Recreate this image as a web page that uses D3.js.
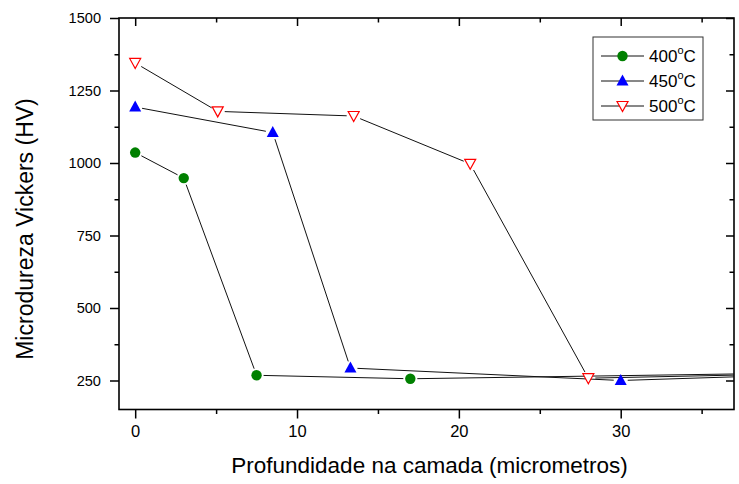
<!DOCTYPE html>
<html><head><meta charset="utf-8">
<script src="https://cdn.jsdelivr.net/npm/d3@7"></script>
<style>body{margin:0;background:#fff}svg{display:block}text{font-family:"Liberation Sans",Arial,sans-serif}</style>
</head><body><svg id="c" width="739" height="484"></svg>
<script>
const series = ["400°C","450°C","500°C"];
const x400 = [0, 3, 7.5, 17, 40];
const y400 = [1036, 948, 268, 256, 275];
const x450 = [0, 8.5, 13.3, 30, 40];
const y450 = [1193, 1105, 293, 250, 268];
const x500 = [0, 5.1, 13.5, 20.7, 28, 40];
const y500 = [1345, 1178, 1162, 997, 258, 272];
const xTicks = [0, 10, 20, 30];
const yTicks = [250, 500, 750, 1000, 1250, 1500];
const xDomain = [-1, 37];
const yDomain = [150, 1500];

const svg = d3.select("#c");
const L = 119, R = 734, T = 18, B = 409.5;
const x = d3.scaleLinear().domain(xDomain).range([L, R]);
const y = d3.scaleLinear().domain(yDomain).range([B, T]);

const gx = svg.append("g").attr("transform", `translate(0,${B})`);
const gy = svg.append("g").attr("transform", `translate(${L},0)`);
const minorX = d3.range(0, 37, 5).filter(v => !xTicks.includes(v));
const minorY = d3.range(375, 1500, 250);

// Bottom axis (outward)
gx.call(d3.axisBottom(x).tickValues(xTicks).tickSize(9).tickPadding(7).tickFormat(d3.format("d")));
gx.append("g").call(d3.axisBottom(x).tickValues(minorX).tickSize(4.5).tickFormat(""));
gx.selectAll(".tick text").attr("font-size", 16.5);
// Left axis (outward)
gy.call(d3.axisLeft(y).tickValues(yTicks).tickSize(9).tickPadding(9).tickFormat(d3.format("d")));
gy.append("g").call(d3.axisLeft(y).tickValues(minorY).tickSize(4.5).tickFormat(""));
gy.selectAll(".tick text").attr("font-size", 14.6);
// Top axis (inward)
const gt = svg.append("g").attr("transform", `translate(0,${T})`);
gt.call(d3.axisBottom(x).tickValues(xTicks).tickSize(8).tickFormat(""));
gt.append("g").call(d3.axisBottom(x).tickValues(minorX).tickSize(4.5).tickFormat(""));
// Right axis (inward)
const gr = svg.append("g").attr("transform", `translate(${R},0)`);
gr.call(d3.axisLeft(y).tickValues(yTicks).tickSize(8).tickFormat(""));
gr.append("g").call(d3.axisLeft(y).tickValues(minorY).tickSize(4.5).tickFormat(""));

svg.selectAll(".domain").remove();
svg.selectAll(".tick line").attr("stroke", "#000").attr("stroke-width", 1.5);
svg.selectAll(".tick text").attr("fill", "#000").attr("font-family", "Liberation Sans, Arial, sans-serif");

svg.append("rect").attr("x", L).attr("y", T).attr("width", R - L).attr("height", B - T)
  .attr("fill", "none").attr("stroke", "#000").attr("stroke-width", 1.6);

svg.append("clipPath").attr("id", "clip").append("rect")
  .attr("x", L).attr("y", T).attr("width", R - L).attr("height", B - T);

const plot = svg.append("g").attr("clip-path", "url(#clip)");
const data = [
  {xs: x400, ys: y400, kind: "circle", color: "#008000"},
  {xs: x450, ys: y450, kind: "up", color: "#0000ff"},
  {xs: x500, ys: y500, kind: "down", color: "#ff0000"}
];
const gap = 7;
data.forEach(s => {
  const pts = s.xs.map((v, i) => [x(v), y(s.ys[i])]);
  for (let i = 0; i < pts.length - 1; i++) {
    const [x1, y1] = pts[i], [x2, y2] = pts[i + 1];
    const dx = x2 - x1, dy = y2 - y1, len = Math.hypot(dx, dy);
    const ux = dx / len, uy = dy / len;
    const g2 = i + 1 === pts.length - 1 && s.xs[i + 1] > xDomain[1] ? 0 : gap;
    plot.append("line")
      .attr("x1", x1 + ux * gap).attr("y1", y1 + uy * gap)
      .attr("x2", x2 - ux * g2).attr("y2", y2 - uy * g2)
      .attr("stroke", "#111").attr("stroke-width", 1);
  }
});

function marker(g, kind, color, cx, cy) {
  if (kind === "circle") {
    g.append("circle").attr("cx", cx).attr("cy", cy).attr("r", 5.2).attr("fill", color);
  } else if (kind === "up") {
    g.append("path").attr("d", `M${cx},${cy - 6.5}L${cx + 6},${cy + 4.5}L${cx - 6},${cy + 4.5}Z`).attr("fill", color);
  } else {
    g.append("path").attr("d", `M${cx - 5.5},${cy - 4.5}L${cx + 5.5},${cy - 4.5}L${cx},${cy + 5.5}Z`)
      .attr("fill", "#fff").attr("stroke", color).attr("stroke-width", 1.2);
  }
}
data.forEach(s => {
  s.xs.forEach((v, i) => {
    if (v <= xDomain[1]) marker(plot, s.kind, s.color, x(v), y(s.ys[i]));
  });
});

// Legend
const lg = svg.append("g");
lg.append("rect").attr("x", 593).attr("y", 37).attr("width", 110).attr("height", 83)
  .attr("fill", "#fff").attr("stroke", "#333").attr("stroke-width", 1);
data.forEach((s, i) => {
  const cy = 56 + i * 25;
  lg.append("line").attr("x1", 601).attr("x2", 644).attr("y1", cy).attr("y2", cy)
    .attr("stroke", "#111").attr("stroke-width", 1);
  marker(lg, s.kind, s.color, 622.5, cy);
  const parts = series[i].split("°");
  const t = lg.append("text").attr("x", 649).attr("y", cy + 6).attr("font-size", 17).attr("fill", "#000");
  t.append("tspan").text(parts[0]);
  t.append("tspan").attr("font-size", 11).attr("dy", -8).text("o");
  t.append("tspan").attr("dy", 8).text(parts[1]);
});

// Axis titles
svg.append("text").attr("x", 429.5).attr("y", 473).attr("text-anchor", "middle")
  .attr("font-size", 22.5).attr("fill", "#000").text("Profundidade na camada (micrometros)");
svg.append("text").attr("transform", `translate(33,229) rotate(-90)`).attr("text-anchor", "middle")
  .attr("font-size", 23).attr("fill", "#000").text("Microdureza Vickers (HV)");
</script></body></html>
